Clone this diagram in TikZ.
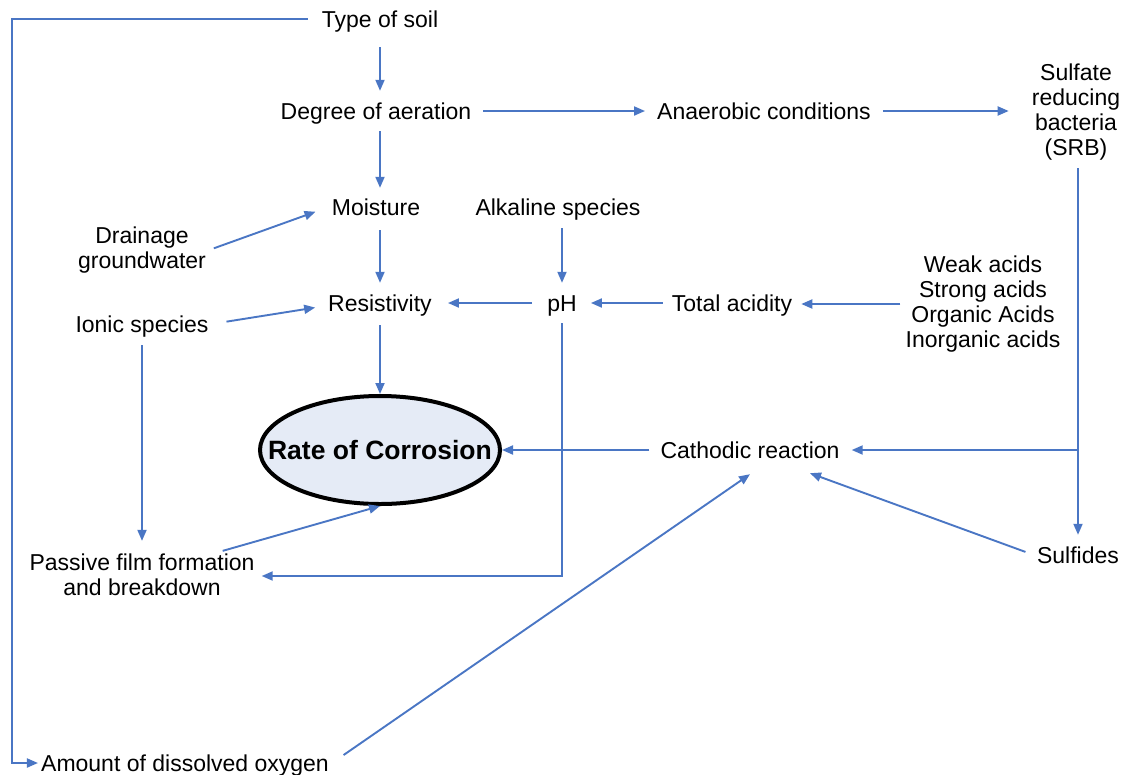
\documentclass[tikz,border=0pt]{standalone}
\usepackage{fontspec}
\setmainfont{Liberation Sans}
\usetikzlibrary{arrows.meta,shapes.geometric,calc}
\definecolor{lblue}{HTML}{4A76C4}
\definecolor{efill}{HTML}{E5EBF6}
\begin{document}
\begin{tikzpicture}[x=1pt,y=-1pt,
  lbl/.style={font=\fontsize{23}{25}\selectfont, inner sep=3pt, text height=17pt, text depth=1pt},
  mlbl/.style={font=\fontsize{23}{25}\selectfont, inner sep=3pt, align=center},
  arr/.style={draw=lblue, line width=1.9pt, -{Triangle[length=11pt,width=9pt]}}]
\useasboundingbox (0,0) rectangle (1127,774);
% nodes
\node[lbl] (soil) at (380,19) {Type of soil};
\node[lbl] (aer) at (376,111) {Degree of aeration};
\node[lbl] (anaer) at (764,111) {Anaerobic conditions};
\node[mlbl] (srb) at (1076,112) {Sulfate\\reducing\\bacteria\\(SRB)};
\node[lbl] (moist) at (376,207) {Moisture};
\node[lbl] (alk) at (558,207) {Alkaline species};
\node[mlbl] (drain) at (142,250) {Drainage\\groundwater};
\node[lbl] (resist) at (380,303) {Resistivity};
\node[lbl] (ph) at (562,303) {pH};
\node[lbl] (tacid) at (732,303) {Total acidity};
\node[mlbl] (acids) at (983,304) {Weak acids\\Strong acids\\Organic Acids\\Inorganic acids};
\node[lbl] (ionic) at (142,324) {Ionic species};
\node[ellipse, draw=black, line width=4pt, fill=efill, minimum width=240pt, minimum height=108pt, inner sep=0pt,
      font=\fontsize{26.5}{28}\selectfont\bfseries] (rate) at (380,450) {\makebox[0pt]{Rate of Corrosion}};
\node[lbl] (cath) at (750,450) {Cathodic reaction};
\node[mlbl] (passive) at (142,575) {Passive film formation\\and breakdown};
\node[lbl] (sulf) at (1078,555) {Sulfides};
\node[lbl] (oxy) at (185,763) {Amount of dissolved oxygen};
% helper coordinates
\coordinate (c1) at (12,19);
\coordinate (br) at (sulf.north |- cath.east);
% connectors
\draw[arr] ([xshift=-11pt]soil.west) -- (c1) |- (oxy.west);
\draw[arr, shorten <=16pt, shorten >=8pt] (soil.south) -- (soil.south |- aer.north);
\draw[arr, shorten <=9pt, shorten >=9pt] (aer.east) -- (anaer.west);
\draw[arr, shorten <=9pt, shorten >=20pt] (anaer.east) -- (anaer.east -| srb.west);
\draw[arr, shorten <=8pt, shorten >=7pt] (soil.south |- aer.south) -- (soil.south |- moist.north);
\draw[arr, shorten <=5pt, shorten >=14pt] (drain.east) -- (moist.west);
\draw[arr, shorten <=11pt, shorten >=8pt] (soil.south |- moist.south) -- (soil.south |- resist.north);
\draw[arr, shorten <=9pt, shorten >=8pt] (ph.north |- alk.south) -- (ph.north);
\draw[arr, shorten <=12pt, shorten >=13pt] (ph.west) -- (resist.east);
\draw[arr, shorten <=6pt, shorten >=11pt] (tacid.west) -- (ph.east);
\draw[arr, shorten <=2pt, shorten >=6pt] (acids.west) -- (acids.west -| tacid.east);
\draw[arr, shorten <=15pt, shorten >=10pt] (ionic.east) -- ([yshift=-3pt]resist.west);
\draw[arr, shorten <=10pt] (resist.south) -- (rate.north);
\draw[arr, shorten <=9pt, shorten >=10pt] (ionic.south) -- (ionic.south |- passive.north);
\draw[arr, shorten <=8pt, shorten >=4pt] (ph.south) |- ([yshift=-1pt]passive.east);
\draw[arr] ([xshift=-35pt]passive.north east) -- (rate.south);
\draw[arr, shorten <=8pt] (cath.west) -- (cath.west -| rate.east);
\draw[arr, shorten <=5pt, shorten >=8pt] (srb.south -| sulf.north) -- (sulf.north);
\draw[arr, shorten >=9pt] (br) -- (cath.east);
\draw[arr, shorten <=9pt] (sulf.west) -- ([xshift=60pt,yshift=-11pt]cath.south);
\draw[arr, shorten <=14pt] (oxy.east) -- ([yshift=-12pt]cath.south);
\end{tikzpicture}
\end{document}
